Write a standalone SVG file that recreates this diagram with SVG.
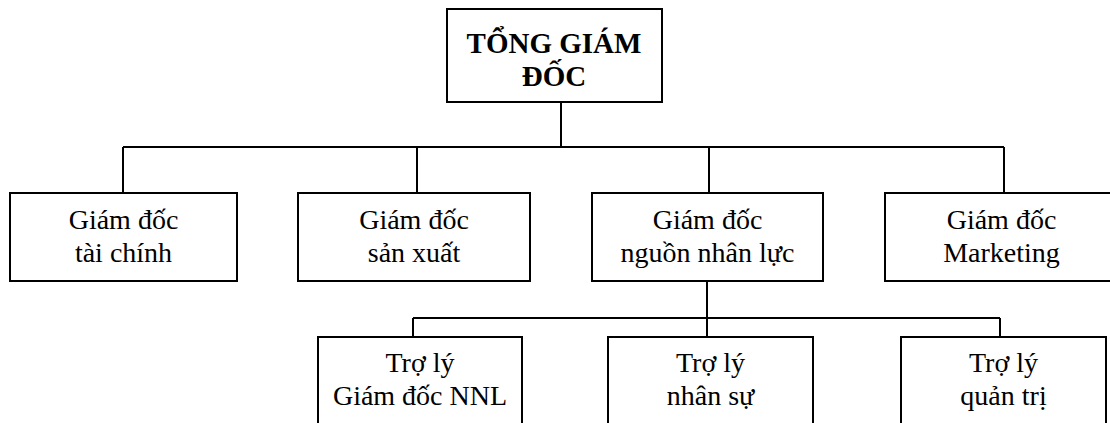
<svg xmlns="http://www.w3.org/2000/svg" width="1110" height="423" viewBox="0 0 1110 423">
<style>
.box{fill:#fff;stroke:#000;stroke-width:2}
.conn{fill:none;stroke:#000;stroke-width:2}
.t{font-family:'Liberation Serif','Times New Roman','DejaVu Serif',serif;font-size:28px;fill:#000;text-anchor:middle}
.b{font-weight:bold;font-size:29px}
</style>
<rect width="1110" height="423" fill="#fff"/>
<g id="connectors">
<path class="conn" d="M561 102V147M123 147H1004M123 147V193M417 147V193M709 147V193M1004 147V193"/>
<path class="conn" d="M707 281V318M413 318H1000M413 318V337M707 318V337M1000 318V337"/>
</g>
<g font-family="Liberation Serif, Times New Roman, DejaVu Serif, serif">
<g id="tong-giam-doc">
<rect class="box" x="447" y="9" width="215" height="93"/>
<text class="t b" x="554" y="53">TỔNG GIÁM</text>
<text class="t b" x="554" y="86">ĐỐC</text>
</g>
<g id="gd-tai-chinh">
<rect class="box" x="10" y="193" width="227" height="88"/>
<text class="t" x="123.5" y="229">Giám đốc</text>
<text class="t" x="123.5" y="262">tài chính</text>
</g>
<g id="gd-san-xuat">
<rect class="box" x="298" y="193" width="232" height="88"/>
<text class="t" x="414" y="229">Giám đốc</text>
<text class="t" x="414" y="262">sản xuất</text>
</g>
<g id="gd-nguon-nhan-luc">
<rect class="box" x="592" y="193" width="231" height="88"/>
<text class="t" x="707.5" y="229">Giám đốc</text>
<text class="t" x="707.5" y="262">nguồn nhân lực</text>
</g>
<g id="gd-marketing">
<rect class="box" x="885" y="193" width="233" height="88"/>
<text class="t" x="1001.5" y="229">Giám đốc</text>
<text class="t" x="1001.5" y="262">Marketing</text>
</g>
<g id="tro-ly-gd-nnl">
<rect class="box" x="318" y="337" width="204" height="100"/>
<text class="t" x="420" y="372">Trợ lý</text>
<text class="t" x="420" y="405">Giám đốc NNL</text>
</g>
<g id="tro-ly-nhan-su">
<rect class="box" x="608" y="337" width="205" height="100"/>
<text class="t" x="710.5" y="372">Trợ lý</text>
<text class="t" x="710.5" y="405">nhân sự</text>
</g>
<g id="tro-ly-quan-tri">
<rect class="box" x="901" y="337" width="205" height="100"/>
<text class="t" x="1003.5" y="372">Trợ lý</text>
<text class="t" x="1003.5" y="405">quản trị</text>
</g>
</g>
</svg>
